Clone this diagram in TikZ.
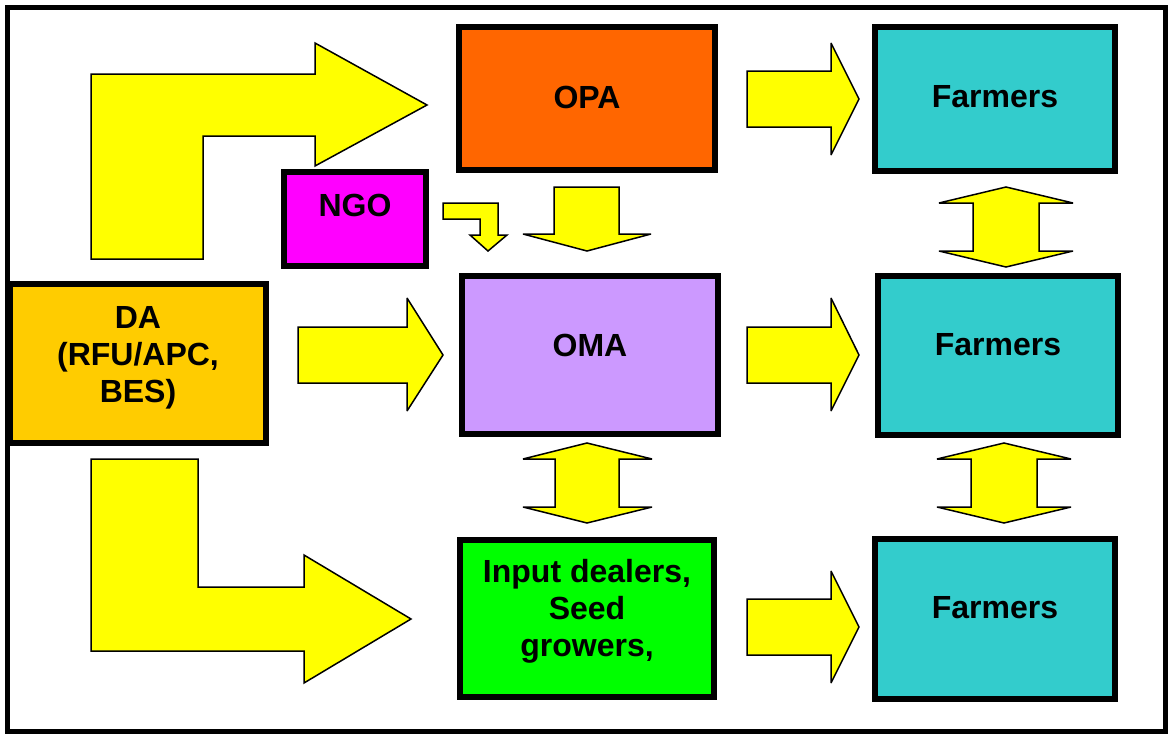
\documentclass[tikz,border=0pt]{standalone}
\usepackage{fontspec}
\setmainfont{Liberation Sans}
\definecolor{opac}{HTML}{FF6600}
\definecolor{ngoc}{HTML}{FF00FF}
\definecolor{dac}{HTML}{FFCC00}
\definecolor{omac}{HTML}{CC99FF}
\definecolor{inpc}{HTML}{00FF00}
\definecolor{farmc}{HTML}{33CCCC}
\definecolor{arrc}{HTML}{FFFF00}
\tikzset{
  box/.style={draw=black, line width=5.5pt, inner sep=0pt, rectangle},
  lbl/.style={font=\fontsize{32}{37}\selectfont\bfseries, align=center, inner sep=0pt, text=black},
  blockarrow/.style={draw=black, fill=arrc, line width=1.5pt, line join=miter, miter limit=3},
}
\begin{document}
\begin{tikzpicture}[x=1pt, y=-1pt]
\useasboundingbox (0,0) rectangle (1168,734);
\fill[white] (0,0) rectangle (1168,734);
\draw[line width=5pt] (7.5,7.5) rectangle (1165,731);

% boxes
\node[box, fill=opac, minimum width=256pt, minimum height=143pt] (opa) at (587,98.5) {};
\node[box, fill=ngoc, minimum width=142pt, minimum height=94pt] (ngo) at (355,219) {};
\node[box, fill=dac, minimum width=256pt, minimum height=159pt] (da) at (138,363.5) {};
\node[box, fill=omac, minimum width=256pt, minimum height=158pt] (oma) at (590,355) {};
\node[box, fill=inpc, minimum width=254pt, minimum height=157pt] (inp) at (587,618.5) {};
\node[box, fill=farmc, minimum width=240pt, minimum height=144pt] (f1) at (995,99) {};
\node[box, fill=farmc, minimum width=240pt, minimum height=159pt] (f2) at (998,355.5) {};
\node[box, fill=farmc, minimum width=240pt, minimum height=160pt] (f3) at (995,619) {};

% labels
\node[lbl] (opat) at (587,97) {OPA};
\node[lbl] (ngot) at (355,205) {NGO};
\node[lbl] (dat) at (138,358) {DA\\(RFU/APC,\\BES)};
\node[lbl] (omat) at (590,345) {OMA};
\node[lbl] (inpt) at (587,611) {Input dealers,\\Seed\\growers,};
\node[lbl] (f1t) at (995,97) {Farmers};
\node[lbl] (f2t) at (998,345) {Farmers};
\node[lbl] (f3t) at (995,608) {Farmers};

% block arrows
\draw[blockarrow] (91,259) -- (91,74) -- (315,74) -- (315,43) -- (427,105) -- (315,166) -- (315,136) -- (203,136) -- (203,259) -- cycle;
\draw[blockarrow] (91,459) -- (198,459) -- (198,587) -- (304,587) -- (304,555) -- (411,619) -- (304,683) -- (304,651) -- (91,651) -- cycle;
\draw[blockarrow] (298,327) -- (407,327) -- (407,298) -- (443,355) -- (407,411) -- (407,383) -- (298,383) -- cycle;
\draw[blockarrow] (747,71) -- (831,71) -- (831,43) -- (859,99) -- (831,155) -- (831,127) -- (747,127) -- cycle;
\draw[blockarrow] (747,327) -- (831,327) -- (831,298) -- (859,355) -- (831,411) -- (831,383) -- (747,383) -- cycle;
\draw[blockarrow] (747,599) -- (831,599) -- (831,571) -- (859,627) -- (831,683) -- (831,655) -- (747,655) -- cycle;
\draw[blockarrow] (554,187) -- (619,187) -- (619,234) -- (651,234) -- (587,251) -- (523,234) -- (554,234) -- cycle;
\draw[blockarrow] (443,203) -- (498,203) -- (498,235) -- (507,235) -- (488,251) -- (470,235) -- (480,235) -- (480,219) -- (443,219) -- cycle;
\draw[blockarrow] (1006,187) -- (1073,203) -- (1039,203) -- (1039,251) -- (1073,251) -- (1006,267) -- (939,251) -- (973,251) -- (973,203) -- (939,203) -- cycle;
\draw[blockarrow] (587,443) -- (652,459) -- (619,459) -- (619,507) -- (652,507) -- (587,523) -- (523,507) -- (555,507) -- (555,459) -- (523,459) -- cycle;
\draw[blockarrow] (1004,443) -- (1071,459) -- (1037,459) -- (1037,507) -- (1071,507) -- (1004,523) -- (937,507) -- (971,507) -- (971,459) -- (937,459) -- cycle;
\end{tikzpicture}
\end{document}
